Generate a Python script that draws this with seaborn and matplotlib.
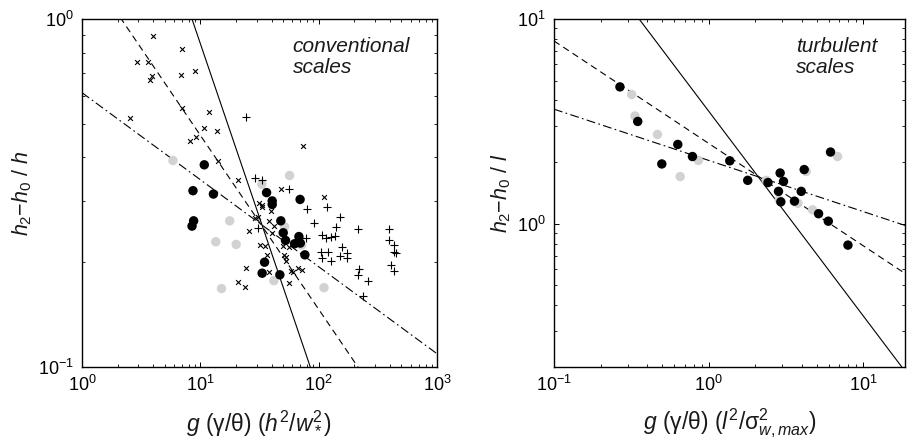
import numpy as np
import pandas as pd
import matplotlib
matplotlib.use("Agg")
import matplotlib.pyplot as plt
import seaborn as sns

# ---------------- data: conventional scaling ----------------
conv_black_x = [10.8, 8.67, 12.9, 8.78, 8.51, 36.3, 40.5, 40.5, 69.7, 47.9, 50.2, 52.5,
                68.1, 62.6, 70.0, 76.5, 34.9, 33.3, 47.0]
conv_black_y = [0.381, 0.321, 0.314, 0.263, 0.254, 0.317, 0.300, 0.293, 0.303, 0.263, 0.243,
                0.231, 0.237, 0.226, 0.227, 0.210, 0.200, 0.186, 0.184]

conv_gray_x = [5.87, 56.8, 33.1, 17.7, 13.5, 20.1, 41.8, 15.1, 111, 51.5, 71.8]
conv_gray_y = [0.392, 0.355, 0.335, 0.263, 0.229, 0.225, 0.177, 0.168, 0.169, 0.253, 0.224]

conv_cross_x = [3.97, 7.0, 2.94, 3.61, 9.07, 6.86, 3.90, 3.77, 6.94, 11.8, 2.55, 10.7, 13.9,
                9.2, 8.23, 73.6, 14.1, 20.9, 47.6, 111, 31.2, 33.3, 33.3, 39.2, 28.8, 30.8,
                37.9, 41.8, 25.7, 40.0, 32.2, 35.1, 50.2, 56.5, 36.7, 50.8, 53.2, 52.5, 24.4,
                38.4, 57.9, 60.6, 66.8, 71.8, 20.9, 23.7, 56.2]
conv_cross_y = [0.895, 0.818, 0.754, 0.754, 0.709, 0.689, 0.684, 0.668, 0.556, 0.540, 0.519,
                0.486, 0.477, 0.459, 0.447, 0.431, 0.392, 0.345, 0.324, 0.308, 0.295, 0.293,
                0.288, 0.281, 0.268, 0.269, 0.263, 0.254, 0.246, 0.242, 0.224, 0.223, 0.223,
                0.221, 0.210, 0.210, 0.207, 0.202, 0.193, 0.188, 0.189, 0.187, 0.193, 0.190,
                0.176, 0.170, 0.174]

conv_plus_x = [24.5, 29.0, 33.3, 56.2, 80.0, 117, 152, 91.0, 139, 30.8, 217, 390, 106, 115,
               126, 137, 77.6, 394, 435, 159, 105, 120, 175, 435, 449, 106, 126, 152, 175,
               407, 430, 220, 215, 262, 237]
conv_plus_y = [0.522, 0.350, 0.345, 0.324, 0.285, 0.288, 0.269, 0.259, 0.253, 0.250, 0.249,
               0.249, 0.239, 0.234, 0.236, 0.238, 0.234, 0.232, 0.224, 0.221, 0.214, 0.214,
               0.213, 0.214, 0.213, 0.206, 0.202, 0.208, 0.205, 0.196, 0.189, 0.191, 0.184,
               0.177, 0.160]

# power-law fits y = a * x**b  (solid, dashed, dash-dot)
conv_fit_a = [8.5, 1.465, 0.614]
conv_fit_b = [-1.0, -0.5, -0.25]

# ---------------- data: turbulent scaling ----------------
turb_black_x = [0.267, 0.348, 0.498, 0.632, 0.786, 1.37, 1.79, 2.42, 2.90, 3.05, 2.83, 2.93,
                4.15, 3.97, 3.59, 6.14, 5.14, 5.94, 7.96]
turb_black_y = [4.66, 3.16, 1.96, 2.44, 2.13, 2.03, 1.63, 1.59, 1.77, 1.61, 1.44, 1.28,
                1.84, 1.44, 1.29, 2.24, 1.12, 1.03, 0.787]

turb_gray_x = [0.318, 0.334, 0.467, 0.859, 0.655, 6.82, 4.70, 3.78, 2.36, 2.86, 4.28]
turb_gray_y = [4.28, 3.36, 2.73, 2.04, 1.70, 2.13, 1.17, 1.26, 1.63, 1.31, 1.80]

turb_fit_a = [3.55, 2.47, 2.04]
turb_fit_b = [-1.0, -0.5, -0.25]

conv_xlim = (1, 1000)
conv_ylim = (0.1, 1)
turb_xlim = (0.1, 18.6)
turb_ylim = (0.2, 10)

# ---------------- style ----------------
sns.set_theme(style="ticks")
plt.rcParams.update({
    "font.family": ["Liberation Sans", "DejaVu Sans"],
    "mathtext.fontset": "custom",
    "mathtext.rm": "Liberation Sans",
    "mathtext.it": "Liberation Sans:italic",
    "mathtext.bf": "Liberation Sans:bold",
    "axes.edgecolor": "black",
    "axes.linewidth": 1.0,
    "xtick.direction": "in",
    "ytick.direction": "in",
    "xtick.top": True,
    "ytick.right": True,
    "xtick.minor.visible": True,
    "ytick.minor.visible": True,
    "xtick.major.size": 3.6,
    "ytick.major.size": 3.6,
    "xtick.minor.size": 2.0,
    "ytick.minor.size": 2.0,
    "xtick.major.width": 0.7,
    "ytick.major.width": 0.7,
    "xtick.minor.width": 0.6,
    "ytick.minor.width": 0.6,
    "xtick.color": "black",
    "ytick.color": "black",
    "xtick.labelsize": 13,
    "ytick.labelsize": 13,
})

GRAY = "#d2d2d2"
TXT = "#1a1a1a"
DOT = 46
line_styles = ["-", (0, (6, 4)), (0, (8, 3, 1.5, 3))]

fig = plt.figure(figsize=(9.14, 4.43), dpi=100)
ax1 = fig.add_axes([0.0897, 0.1716, 0.3884, 0.7856])
ax2 = fig.add_axes([0.6061, 0.1716, 0.3840, 0.7856])


def draw_fits(ax, a_list, b_list, xlim):
    xs = np.logspace(np.log10(xlim[0]), np.log10(xlim[1]), 200)
    for a, b, ls in zip(a_list, b_list, line_styles):
        df = pd.DataFrame({"x": xs, "y": a * xs ** b})
        sns.lineplot(data=df, x="x", y="y", ax=ax, color="black", lw=0.8,
                     estimator=None, sort=False, linestyle=ls, zorder=2)


def style_axes(ax, xlim, ylim):
    ax.set_xscale("log")
    ax.set_yscale("log")
    ax.set_xlim(*xlim)
    ax.set_ylim(*ylim)
    ax.yaxis.set_minor_formatter(matplotlib.ticker.NullFormatter())
    ax.xaxis.set_minor_formatter(matplotlib.ticker.NullFormatter())
    for s in ax.spines.values():
        s.set_visible(True)
    ax.tick_params(axis="both", which="major", pad=6)


# ---- left panel ----
draw_fits(ax1, conv_fit_a, conv_fit_b, conv_xlim)
sns.scatterplot(x=conv_gray_x, y=conv_gray_y, ax=ax1, color=GRAY, s=DOT,
                edgecolor="none", zorder=3)
sns.scatterplot(x=conv_black_x, y=conv_black_y, ax=ax1, color="black", s=DOT,
                edgecolor="none", zorder=4)
sns.scatterplot(x=conv_cross_x, y=conv_cross_y, ax=ax1, marker="x", color="black",
                s=12, linewidth=0.8, zorder=5)
sns.scatterplot(x=conv_plus_x, y=conv_plus_y, ax=ax1, marker="+", color="black",
                s=30, linewidth=0.8, zorder=5)
style_axes(ax1, conv_xlim, conv_ylim)
ax1.set_xlabel(r"$g\ (\mathrm{\gamma/\theta})\ (h^2/w_*^2)$", fontsize=16.5, labelpad=9,
               color=TXT)
ax1.set_ylabel(r"$h_2\mathrm{-}h_0\ /\ h$", fontsize=15.5, labelpad=3, color=TXT)
ax1.text(0.593, 0.948, "conventional\nscales", transform=ax1.transAxes, fontsize=15,
         style="italic", va="top", ha="left", linespacing=1.12, color=TXT)

# ---- right panel ----
draw_fits(ax2, turb_fit_a, turb_fit_b, turb_xlim)
sns.scatterplot(x=turb_gray_x, y=turb_gray_y, ax=ax2, color=GRAY, s=DOT,
                edgecolor="none", zorder=3)
sns.scatterplot(x=turb_black_x, y=turb_black_y, ax=ax2, color="black", s=DOT,
                edgecolor="none", zorder=4)
style_axes(ax2, turb_xlim, turb_ylim)
ax2.set_xlabel(r"$g\ (\mathrm{\gamma/\theta})\ (l^2/\mathrm{\sigma}^2_{w,max})$", fontsize=16.5,
               labelpad=8, color=TXT)
ax2.set_ylabel(r"$h_2\mathrm{-}h_0\ /\ l$", fontsize=15.5, labelpad=3, color=TXT)
ax2.text(0.689, 0.948, "turbulent\nscales", transform=ax2.transAxes, fontsize=15,
         style="italic", va="top", ha="left", linespacing=1.12, color=TXT)

fig.savefig("out.png", dpi=100, facecolor="white")
